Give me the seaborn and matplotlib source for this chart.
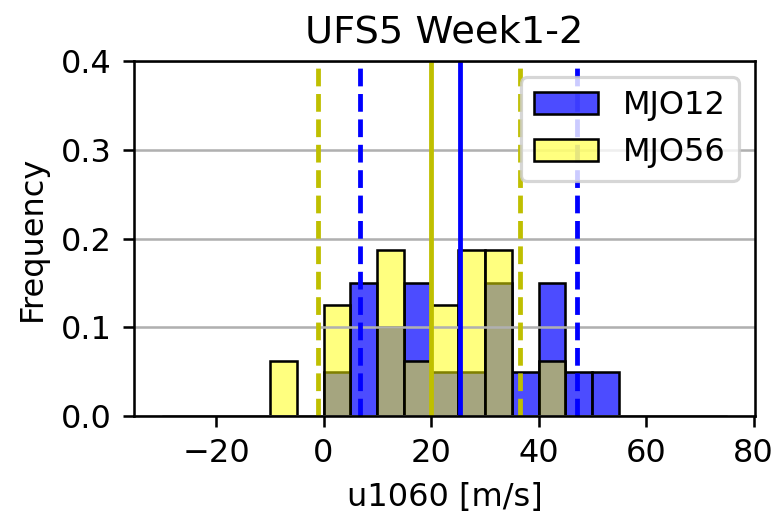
import matplotlib
matplotlib.use("Agg")
import matplotlib.pyplot as plt
import numpy as np
import seaborn as sns

# 5 m/s wind bins from -30 to 75
bin_centers = [-27.5, -22.5, -17.5, -12.5, -7.5, -2.5, 2.5, 7.5, 12.5, 17.5, 22.5,
               27.5, 32.5, 37.5, 42.5, 47.5, 52.5, 57.5, 62.5, 67.5, 72.5]
bin_edges = [-30, -25, -20, -15, -10, -5, 0, 5, 10, 15, 20, 25, 30, 35, 40, 45,
             50, 55, 60, 65, 70, 75]

# relative frequency per bin
freq_mjo12 = [0, 0, 0, 0, 0, 0, 0.05, 0.15, 0.10, 0.15, 0.05,
              0.05, 0.15, 0.05, 0.15, 0.05, 0.05, 0, 0, 0, 0]
freq_mjo56 = [0, 0, 0, 0, 0.0625, 0, 0.125, 0, 0.1875, 0.0625, 0.125,
              0.1875, 0.1875, 0, 0.0625, 0, 0, 0, 0, 0, 0]

# mean (solid) and lower/upper bounds (dashed)
mean_mjo12, lo_mjo12, hi_mjo12 = 25.3, 6.7, 47.2
mean_mjo56, lo_mjo56, hi_mjo56 = 20.0, -1.1, 36.5

dpi = 230
fig = plt.figure(figsize=(775 / dpi, 516 / dpi), dpi=dpi)
ax = fig.add_axes([0.173, 0.194, 0.801, 0.687])

sns.histplot(x=bin_centers, weights=freq_mjo12, bins=bin_edges, color="b",
             alpha=0.7, edgecolor="k", linewidth=0.8, label="MJO12", ax=ax)
sns.histplot(x=bin_centers, weights=freq_mjo56, bins=bin_edges, color="yellow",
             alpha=0.5, edgecolor="k", linewidth=0.8, label="MJO56", ax=ax)

ax.axvline(mean_mjo12, color="b", lw=1.5)
ax.axvline(lo_mjo12, color="b", lw=1.5, ls="--")
ax.axvline(hi_mjo12, color="b", lw=1.5, ls="--")
ax.axvline(mean_mjo56, color="y", lw=1.5)
ax.axvline(lo_mjo56, color="y", lw=1.5, ls="--")
ax.axvline(hi_mjo56, color="y", lw=1.5, ls="--")

ax.set_ylim(0, 0.4)
ax.set_yticks([0.0, 0.1, 0.2, 0.3, 0.4])
ax.set_xticks([-20, 0, 20, 40, 60, 80])
ax.grid(axis="y")
ax.set_xlabel("u1060 [m/s]")
ax.set_ylabel("Frequency")
ax.set_title("UFS5 Week1-2")
ax.legend(loc="upper right")

fig.savefig("out.png", dpi=dpi)
